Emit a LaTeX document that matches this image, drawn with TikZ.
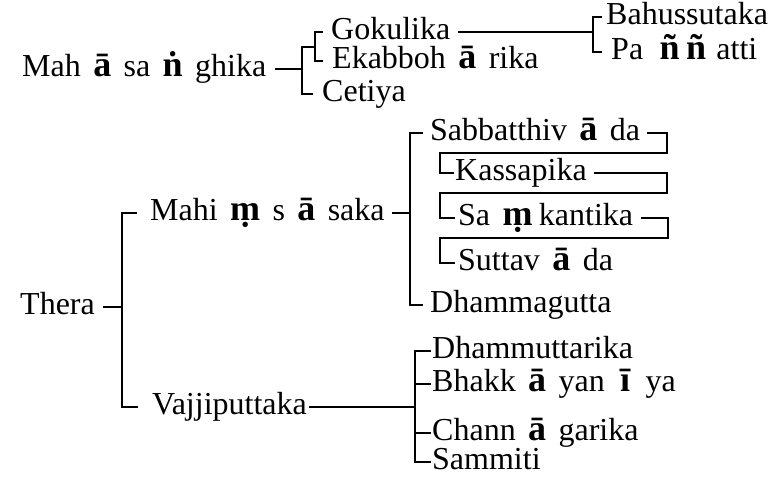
\documentclass[tikz,border=0pt]{standalone}
\usepackage{fontspec}
\setmainfont{Liberation Serif}
\usetikzlibrary{positioning}
\begin{document}
\begin{tikzpicture}[x=1pt,y=-1pt,
  lbl/.style={anchor=west, inner sep=0pt, font=\fontsize{32}{34}\selectfont, text height=21pt, text depth=7pt},
  bg/.style={lbl, font=\fontsize{36}{38}\selectfont\bfseries},
  node distance=12pt,
  conn/.style={line width=1.6pt, line cap=rect, line join=miter}]
\useasboundingbox (0,0) rectangle (784,477);
% nodes
\node[lbl] (mah)  at (22,69) {Mah};
\node[bg,  right=of mah]  (mah2) {ā};
\node[lbl, right=of mah2] (mah3) {sa};
\node[bg,  right=of mah3] (mah4) {ṅ};
\node[lbl, right=of mah4] (mah5) {ghika};
\node[lbl] (gok)  at (331,32)  {Gokulika};
\node[lbl] (ekab) at (332,61)  {Ekabboh};
\node[bg,  right=of ekab]  (ekab2) {ā};
\node[lbl, right=of ekab2] (ekab3) {rika};
\node[lbl] (cet)  at (322,94)  {Cetiya};
\node[lbl] (bahu) at (606,17)  {Bahussutaka};
\node[lbl] (pan)  at (611,52)  {Pa};
\node[bg,  right=16pt of pan]  (pan2) {ñ};
\node[bg,  right=6pt of pan2]  (pan3) {ñ};
\node[lbl, right=10pt of pan3] (pan4) {atti};
\node[lbl] (thera) at (20,307) {Thera};
\node[lbl] (mahi) at (150,213) {Mahi};
\node[bg,  right=of mahi]  (mahi2) {ṃ};
\node[lbl, right=of mahi2] (mahi3) {s};
\node[bg,  right=of mahi3] (mahi4) {ā};
\node[lbl, right=of mahi4] (mahi5) {saka};
\node[lbl] (sabb) at (430,133) {Sabbatthiv};
\node[bg,  right=of sabb]  (sabb2) {ā};
\node[lbl, right=of sabb2] (sabb3) {da};
\node[lbl] (kass) at (455,173) {Kassapika};
\node[lbl] (samk) at (458,218) {Sa};
\node[bg,  right=of samk]  (samk2) {ṃ};
\node[lbl, right=6pt of samk2] (samk3) {kantika};
\node[lbl] (sutt) at (458,263) {Suttav};
\node[bg,  right=of sutt]  (sutt2) {ā};
\node[lbl, right=of sutt2] (sutt3) {da};
\node[lbl] (dhmg) at (430,305) {Dhammagutta};
\node[lbl] (vaj)  at (152,407) {Vajjiputtaka};
\node[lbl] (dhut) at (432,351) {Dhammuttarika};
\node[lbl] (bhak) at (432,384) {Bhakk};
\node[bg,  right=of bhak]  (bhak2) {ā};
\node[lbl, right=of bhak2] (bhak3) {yan};
\node[bg,  right=15pt of bhak3] (bhak4) {ī};
\node[lbl, right=15pt of bhak4] (bhak5) {ya};
\node[lbl] (chan) at (432,433) {Chann};
\node[bg,  right=of chan]  (chan2) {ā};
\node[lbl, right=of chan2] (chan3) {garika};
\node[lbl] (samm) at (432,462) {Sammiti};
% junctions
\coordinate (a1) at (302,47);
\coordinate (a2) at (315,47);
\coordinate (b1) at (593,32);
\coordinate (t1) at (122,307);
\coordinate (m1) at (410,213);
\coordinate (zl) at (440,0);
\coordinate (z1) at (667,153);
\coordinate (z2) at (667,193);
\coordinate (z3) at (668,238);
\coordinate (w1) at (415,407);
% connectors
\draw[conn] ([xshift=9]mah5.east) -- (a1 |- mah5.west);
\draw[conn] ([xshift=-10]cet.west) -| (a1) -- (a2);
\draw[conn] ([xshift=-9]gok.west) -| (a2) |- ([xshift=-10]ekab.west);
\draw[conn] ([xshift=8]gok.east) -- (b1);
\draw[conn] ([xshift=-5]bahu.west) -| (b1) |- ([xshift=-10]pan.west);
\draw[conn] ([xshift=9]thera.east) -- (t1);
\draw[conn] ([xshift=-14]mahi.west) -| (t1) |- ([xshift=-15]vaj.west);
\draw[conn] ([xshift=8]mahi5.east) -- (m1);
\draw[conn] ([xshift=-8]sabb.west) -| (m1) |- ([xshift=-8]dhmg.west);
\draw[conn] ([xshift=8]sabb3.east) -| (z1) -- (z1 -| zl) |- ([xshift=-2]kass.west);
\draw[conn] ([xshift=8]kass.east) -| (z2) -- (z2 -| zl) |- ([xshift=-4]samk.west);
\draw[conn] ([xshift=8]samk3.east) -| (z3) -- (z3 -| zl) |- ([xshift=-4]sutt.west);
\draw[conn] ([xshift=3]vaj.east) -- (w1);
\draw[conn] ([xshift=-2]dhut.west) -| (w1) |- ([xshift=-2]samm.west);
\draw[conn] (w1 |- bhak.west) -- ([xshift=-2]bhak.west);
\draw[conn] (w1 |- chan.west) -- ([xshift=-2]chan.west);
\end{tikzpicture}
\end{document}
